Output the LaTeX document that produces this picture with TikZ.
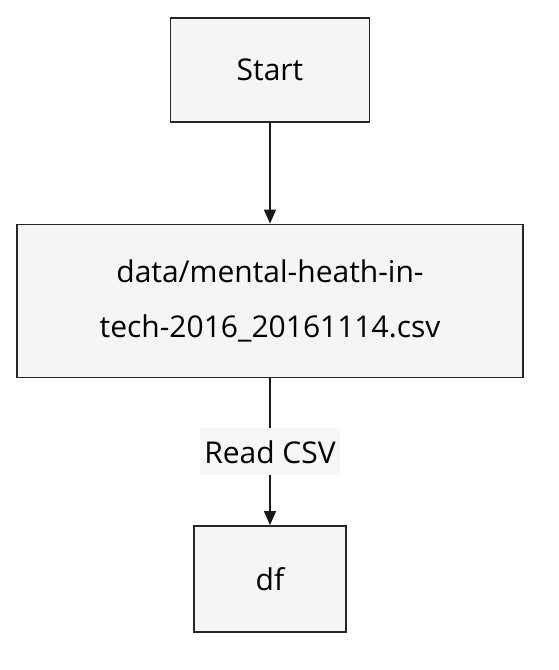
\documentclass[tikz,border=0pt]{standalone}
\usepackage{fontspec}
\setmainfont{Open Sans}
\usetikzlibrary{arrows.meta}
\begin{document}
\begin{tikzpicture}[x=1pt,y=-1pt,
    box/.style = {draw=black!85, line width=1.8pt, fill=black!4, font=\fontsize{30}{55}\selectfont, align=center, inner sep=0pt},
    flow/.style = {draw=black!90, line width=1.3pt, -{Triangle[length=14pt,width=12pt]}},
    lbl/.style = {fill=black!3, font=\fontsize{30}{34}\selectfont, inner sep=4pt, minimum height=47pt}]
            \useasboundingbox (0,0) rectangle (558,670);
            \node[box, minimum width=199pt, minimum height=104pt] (start) at (270,70) {Start};
            \node[box, minimum width=506pt, minimum height=153pt] (csv) at (270,301) {data/mental-heath-in-\\tech-2016\_20161114.csv};
            \node[box, minimum width=152pt, minimum height=106pt] (df) at (270,579) {df};
            \draw[flow] (start) -- (csv);
            \draw[flow] (csv) -- node[lbl] {Read CSV} (df);
        \end{tikzpicture}
\end{document}
